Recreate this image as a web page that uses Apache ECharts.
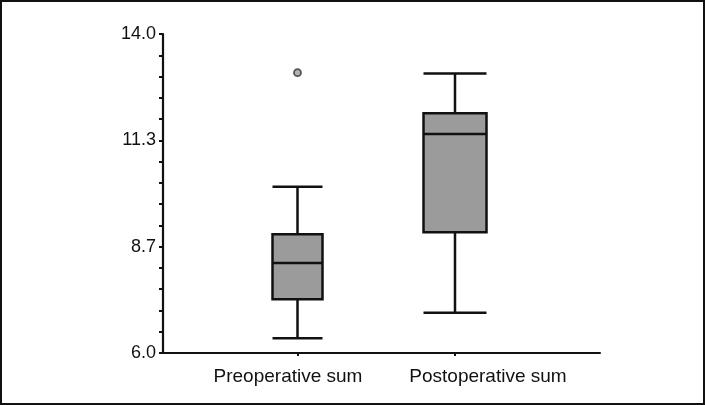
<!DOCTYPE html>
<html>
<head>
<meta charset="utf-8">
<script src="https://cdn.jsdelivr.net/npm/echarts@6/dist/echarts.min.js"></script>
<style>
html,body{margin:0;padding:0;background:#fff;}
#c{position:absolute;left:0;top:0;width:705px;height:405px;}
#frame{position:absolute;left:0;top:0;width:705px;height:405px;box-sizing:border-box;border:2px solid #111;pointer-events:none;}
</style>
</head>
<body>
<div id="c"></div>
<div id="frame"></div>
<script>
// ---- data ----
const categories = ['Preoperative sum', 'Postoperative sum'];
// [min, Q1, median, Q3, max]
const preBox = [6.37, 7.35, 8.26, 8.98, 10.17];
const postBox = [7.01, 9.03, 11.49, 12.01, 13.01];
const preOutliers = [13.03];
const yMin = 6.0;
const yMax = 14.0;
const yTickValues = [6.0, 8.6667, 11.3333, 14.0];
const yTickLabels = ['6.0', '8.7', '11.3', '14.0'];
const yMinorPerMajor = 5;

// tick marks (major + minor)
const allTicks = [];
for (let i = 0; i < yTickValues.length - 1; i++) {
  const a = yTickValues[i], b = yTickValues[i + 1];
  for (let k = 0; k < yMinorPerMajor; k++) allTicks.push(a + (b - a) * k / yMinorPerMajor);
}
allTicks.push(yTickValues[yTickValues.length - 1]);

const font = '"Liberation Sans", Arial, sans-serif';
const ink = '#111';
const TOP = 34, H = 319;

const chart = echarts.init(document.getElementById('c'), null, {renderer: 'canvas'});
const hiddenY = (gi) => ({type: 'value', gridIndex: gi, min: yMin, max: yMax, show: false});
const catX = (gi, name, pad) => ({
  type: 'category', gridIndex: gi, data: [name], boundaryGap: true,
  axisLine: {show: false},
  axisTick: {show: true, alignWithLabel: true, length: 3, lineStyle: {color: ink, width: 2}},
  axisLabel: {color: ink, fontSize: 19, fontFamily: font, margin: 14, padding: pad},
  splitLine: {show: false}
});
const boxStyle = {color: '#9b9b9b', borderColor: ink, borderWidth: 2.5};

chart.setOption({
  animation: false,
  grid: [
    {left: 163, top: TOP, width: 437, height: H},
    {left: 218.75, top: TOP, width: 157.5, height: H},
    {left: 376.25, top: TOP, width: 157.5, height: H}
  ],
  xAxis: [
    {type: 'value', gridIndex: 0, min: 0, max: 1, axisLine: {show: true, lineStyle: {color: ink, width: 2}},
     axisTick: {show: false}, axisLabel: {show: false}, splitLine: {show: false}},
    catX(1, categories[0], [0, 19, 0, 0]),
    catX(2, categories[1], [0, 0, 0, 66])
  ],
  yAxis: [
    {type: 'value', gridIndex: 0, min: yMin, max: yMax,
     axisLine: {show: true, lineStyle: {color: ink, width: 2.2}},
     axisTick: {show: true, inside: false, length: 4, customValues: allTicks, lineStyle: {color: ink, width: 2}},
     axisLabel: {show: true, customValues: yTickValues, color: ink, fontSize: 18, fontFamily: font, margin: 7,
       padding: [0, 0, 7, 0],
       formatter: function (v) {
         const i = yTickValues.findIndex(t => Math.abs(t - v) < 1e-3);
         return i >= 0 ? yTickLabels[i] : '';
       }},
     splitLine: {show: false}},
    hiddenY(1),
    hiddenY(2)
  ],
  series: [
    {type: 'boxplot', xAxisIndex: 1, yAxisIndex: 1, data: [preBox], boxWidth: [50, 50], itemStyle: boxStyle, silent: true},
    {type: 'boxplot', xAxisIndex: 2, yAxisIndex: 2, data: [postBox], boxWidth: [63, 63], itemStyle: boxStyle, silent: true},
    {type: 'scatter', xAxisIndex: 1, yAxisIndex: 1, data: preOutliers.map(v => [0, v]), symbol: 'circle', symbolSize: 7,
     itemStyle: {color: '#a0a0a0', borderColor: '#333', borderWidth: 1.8}, silent: true}
  ]
});
</script>
</body>
</html>
